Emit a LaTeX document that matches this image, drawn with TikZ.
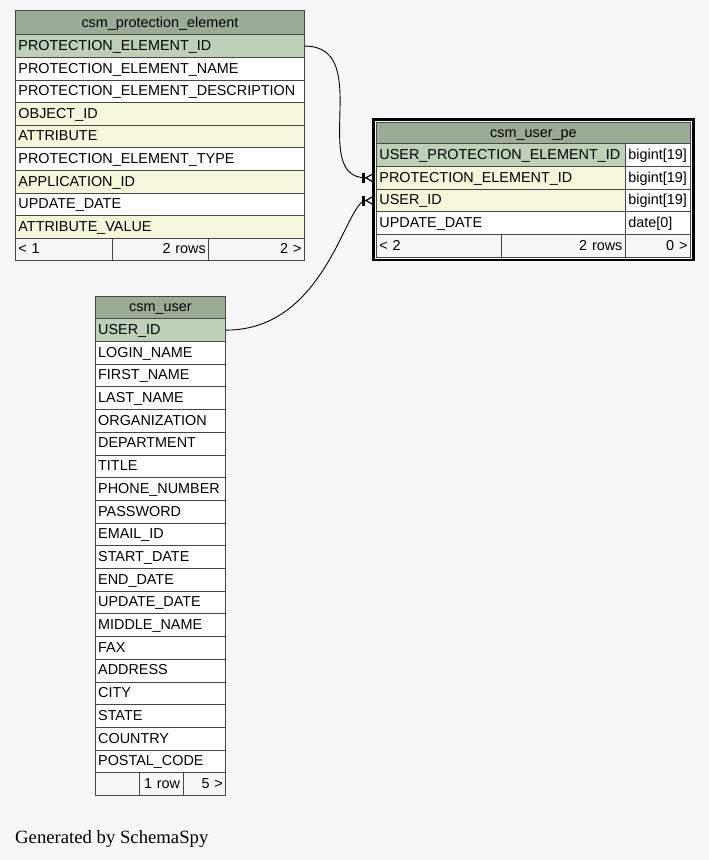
\documentclass[tikz,border=0pt]{standalone}
\usepackage{fontspec}
\setmainfont{Liberation Serif}
\newfontfamily\arialfam{Liberation Sans}
\usepackage{tikz}
\usetikzlibrary{arrows.meta,fit}
\usepackage{xcolor}
\definecolor{bgc}{HTML}{F7F7F7}
\definecolor{headc}{HTML}{9BAB96}
\definecolor{pkc}{HTML}{BED1B8}
\definecolor{idxc}{HTML}{F4F7DA}
\tikzset{
  cell/.style={rectangle,draw=black!72,line width=0.9pt,anchor=north west,inner xsep=3pt,inner ysep=0pt,
    minimum height=22.7pt,text height=10.3pt,text depth=1.6pt,align=left,font=\arialfam\fontsize{14.4}{16}\selectfont},
  thead/.style={cell,fill=headc,align=center},
  foot/.style={cell,fill=bgc},
  selbox/.style={rectangle,draw=black,line width=2.6pt,inner sep=2.3pt},
  fk/.style={line width=0.9pt,black,shorten >=1.5pt,
    -{Bar[width=10pt,line width=2.8pt] Straight Barb[reversed,length=8pt,width=9pt,line width=1.2pt]}},
  gen/.style={anchor=base west,inner sep=0pt,font=\fontsize{18.7}{22}\selectfont},
}

\begin{document}
\begin{tikzpicture}[x=1pt,y=-1pt]
  \fill[bgc] (0,0) rectangle (709,860);
  \useasboundingbox (0,0) rectangle (709,860);
  % csm_protection_element
  \node[thead,text width=283pt,minimum height=24pt] (pehead) at (15,10.3) {csm\_protection\_element};
  \foreach \txt/\clr [count=\i from 0] in {PROTECTION\_ELEMENT\_ID/pkc, PROTECTION\_ELEMENT\_NAME/white,
      PROTECTION\_ELEMENT\_DESCRIPTION/white, OBJECT\_ID/idxc, ATTRIBUTE/idxc, PROTECTION\_ELEMENT\_TYPE/white,
      APPLICATION\_ID/idxc, UPDATE\_DATE/white, ATTRIBUTE\_VALUE/idxc}{
    \node[cell,fill=\clr,text width=283pt] (pe\i) at (15,{34.3+22.6*\i}) {\txt};}
  \node[foot,text width=90.7pt] (pef1) at (15,237.7) {< 1};
  \node[foot,text width=90.6pt,align=right] (pef2) at (111.7,237.7) {2 rows};
  \node[foot,text width=89.7pt,align=right] (pef3) at (208.3,237.7) {2 >};
  % csm_user_pe
  \node[thead,text width=308pt,minimum height=21.3pt] (uphead) at (376,122) {csm\_user\_pe};
  \foreach \txt/\clr/\typ [count=\i from 0] in {USER\_PROTECTION\_ELEMENT\_ID/pkc/bigint[19],
      PROTECTION\_ELEMENT\_ID/idxc/bigint[19], USER\_ID/idxc/bigint[19], UPDATE\_DATE/white/date[0]}{
    \node[cell,fill=\clr,text width=243pt] (up\i) at (376,{143.3+22.7*\i}) {\txt};
    \node[cell,fill=white,text width=59pt] (upt\i) at (625,{143.3+22.7*\i}) {\typ};}
  \node[foot,text width=119pt] (upf1) at (376,234.1) {< 2};
  \node[foot,text width=118pt,align=right] (upf2) at (501,234.1) {2 rows};
  \node[foot,text width=59pt,align=right] (upf3) at (625,234.1) {0 >};
  \node[selbox,fit=(uphead)(upf1)(upf3)] (upframe) {};
  % csm_user
  \node[thead,text width=124.6pt,minimum height=22.8pt] (ushead) at (94.7,295.5) {csm\_user};
  \foreach \txt/\clr [count=\i from 0] in {USER\_ID/pkc, LOGIN\_NAME/white, FIRST\_NAME/white, LAST\_NAME/white,
      ORGANIZATION/white, DEPARTMENT/white, TITLE/white, PHONE\_NUMBER/white, PASSWORD/white, EMAIL\_ID/white,
      START\_DATE/white, END\_DATE/white, UPDATE\_DATE/white, MIDDLE\_NAME/white, FAX/white, ADDRESS/white,
      CITY/white, STATE/white, COUNTRY/white, POSTAL\_CODE/white}{
    \node[cell,fill=\clr,text width=124.6pt] (us\i) at (94.7,{318.3+22.7*\i}) {\txt};}
  \node[foot,text width=38.3pt] (usf1) at (94.7,772.3) {};
  \node[foot,text width=37.7pt,align=right] (usf2) at (139,772.3) {1 row};
  \node[foot,text width=36.6pt,align=right] (usf3) at (182.7,772.3) {5 >};
  % relations
  \draw[fk] (pe0.east) .. controls +(70,0) and +(-68,0) .. (up1.west);
  \draw[fk] (us0.east) .. controls +(100,0) and +(-30,0) .. (up2.west);
  \node[gen] (genby) at (15,843.5) {Generated by SchemaSpy};
\end{tikzpicture}
\end{document}
